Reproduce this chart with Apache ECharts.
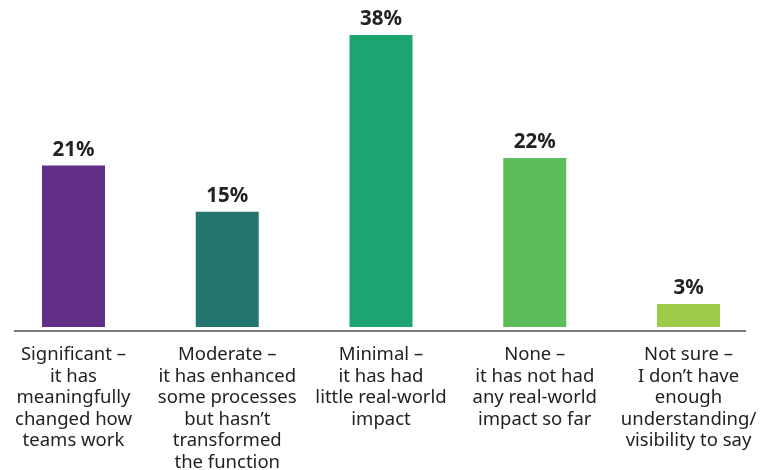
<!DOCTYPE html>
<html><head><meta charset="utf-8">
<script src="https://cdn.jsdelivr.net/npm/echarts@6/dist/echarts.min.js"></script>
<style>html,body{margin:0;padding:0;background:#fff}#c{width:764px;height:470px}</style>
</head><body><div id="c"></div>
<script>
const categories = [
  "Significant –\nit has\nmeaningfully\nchanged how\nteams work",
  "Moderate –\nit has enhanced\nsome processes\nbut hasn’t\ntransformed\nthe function",
  "Minimal –\nit has had\nlittle real-world\nimpact",
  "None –\nit has not had\nany real-world\nimpact so far",
  "Not sure –\nI don’t have\nenough\nunderstanding/\nvisibility to say"
];
const values = [21, 15, 38, 22, 3];
const colors = ["#612d86", "#25766f", "#1da571", "#5cbd5a", "#9ecb4a"];

const chart = echarts.init(document.getElementById('c'));
chart.setOption({
  animation: false,
  grid: { left: -3.4, right: -1.4, top: 19.6, bottom: 143, containLabel: false, outerBoundsMode: 'none' },
  xAxis: {
    type: 'category', data: categories,
    axisLine: { show: false }, axisTick: { show: false },
    axisLabel: { interval: 0, margin: 17, color: '#222', fontSize: 18.5, lineHeight: 21.5,
      fontFamily: 'Noto Sans', align: 'center' }
  },
  yAxis: { type: 'value', min: 0, max: 40, show: false, splitLine: { show: false } },
  series: [{
    type: 'bar', barWidth: 63,
    data: values.map((v, i) => ({ value: v, itemStyle: { color: colors[i] } })),
    label: { show: true, position: 'top', distance: 5, formatter: '{c}%',
      color: '#222', fontSize: 20.5, fontWeight: 'bold', fontFamily: 'Noto Sans' }
  }],
  graphic: [{ type: 'line', shape: { x1: 14, y1: 331, x2: 746, y2: 331 },
    style: { stroke: '#7a7a7a', lineWidth: 2 } }]
});
</script></body></html>
